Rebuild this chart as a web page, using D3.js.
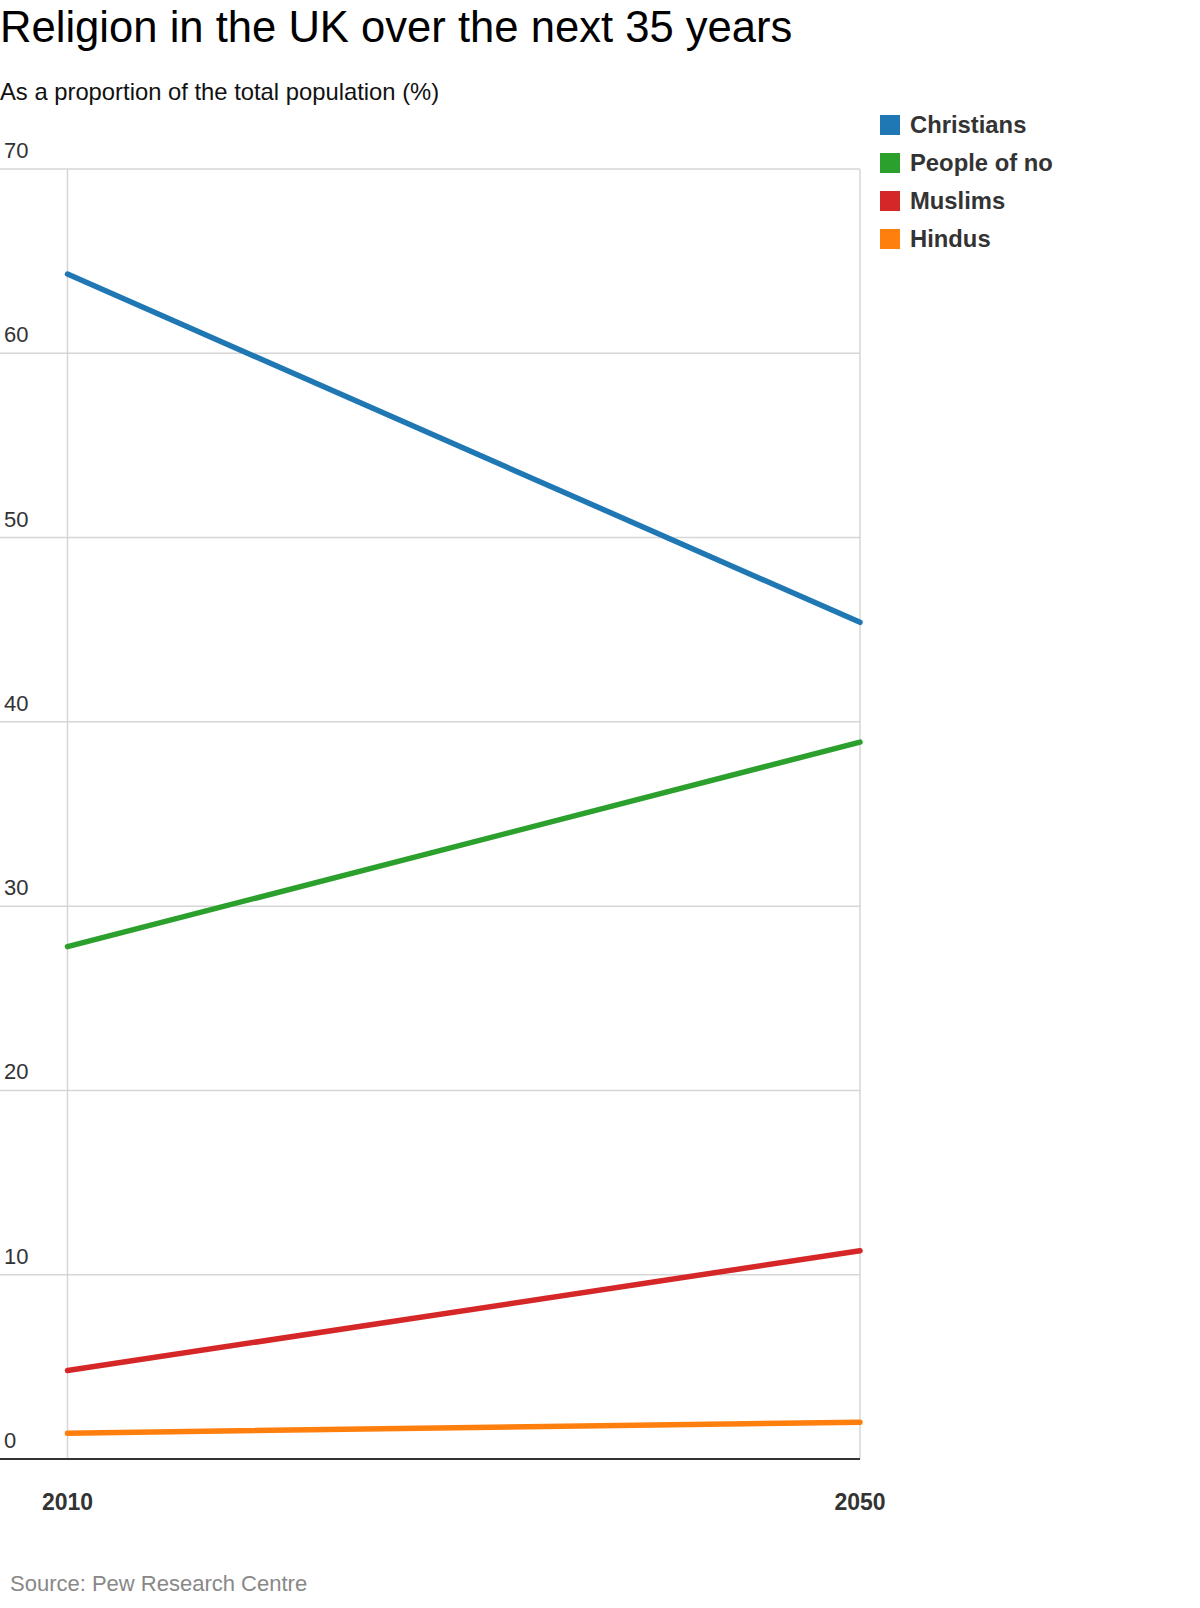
<!DOCTYPE html>
<html><head><meta charset="utf-8">
<script src="https://cdn.jsdelivr.net/npm/d3@7"></script>
<style>body{margin:0;background:#fff;} text{font-family:"Liberation Sans",Arial,sans-serif;}</style>
</head><body><div id="chart"></div>
<script>
const years = [2010, 2050];
const seriesNames = ["Christians", "People of no", "Muslims", "Hindus"];
const christians = [64.3, 45.4];
const noReligion = [27.8, 38.9];
const muslims = [4.8, 11.3];
const hindus = [1.4, 2.0];
const colors = ["#1f77b4", "#2ca02c", "#d62728", "#ff7f0e"];
const yTicks = [0, 10, 20, 30, 40, 50, 60, 70];

const allValues = [christians, noReligion, muslims, hindus];
const W = 1200, H = 1608;
const svg = d3.select("#chart").append("svg").attr("width", W).attr("height", H);

const x = d3.scalePoint().domain(years).range([67.5, 860]);
const y = d3.scaleLinear().domain([0, 70]).range([1459, 169]);

svg.append("text").attr("x", 0).attr("y", 42).attr("font-size", 43.6).attr("fill", "#000")
  .text("Religion in the UK over the next 35 years");
svg.append("text").attr("x", 0).attr("y", 100).attr("font-size", 23.8).attr("fill", "#111")
  .text("As a proportion of the total population (%)");

// gridlines
const grid = svg.append("g");
grid.selectAll("line.h").data(yTicks.filter(d => d > 0)).enter().append("line")
  .attr("x1", 0).attr("x2", x(2050)).attr("y1", d => y(d)).attr("y2", d => y(d))
  .attr("stroke", "#d6d6d6").attr("stroke-width", 1.5);
grid.selectAll("line.v").data(years).enter().append("line")
  .attr("x1", d => x(d)).attr("x2", d => x(d)).attr("y1", y(70)).attr("y2", y(0))
  .attr("stroke", "#d6d6d6").attr("stroke-width", 1.5);

// y labels
svg.append("g").selectAll("text").data(yTicks).enter().append("text")
  .attr("x", 4).attr("y", d => y(d) - 11).attr("font-size", 22).attr("fill", "#333")
  .text(d => d);

// baseline
svg.append("line").attr("x1", 0).attr("x2", x(2050)).attr("y1", y(0)).attr("y2", y(0))
  .attr("stroke", "#333").attr("stroke-width", 2);

// x labels
svg.append("g").selectAll("text").data(years).enter().append("text")
  .attr("x", d => x(d)).attr("y", 1510).attr("text-anchor", "middle")
  .attr("font-size", 23).attr("font-weight", "bold").attr("fill", "#333").text(d => d);

// lines
const line = d3.line().x((d, i) => x(years[i])).y(d => y(d));
svg.append("g").selectAll("path").data(allValues).enter().append("path")
  .attr("d", d => line(d)).attr("fill", "none")
  .attr("stroke", (d, i) => colors[i]).attr("stroke-width", 5.5)
  .attr("stroke-linecap", "round").attr("stroke-linejoin", "round");

// legend
const lg = svg.append("g").attr("transform", "translate(880,115)");
const items = lg.selectAll("g").data(seriesNames).enter().append("g")
  .attr("transform", (d, i) => `translate(0,${i * 38})`);
items.append("rect").attr("width", 20).attr("height", 20).attr("fill", (d, i) => colors[i]);
items.append("text").attr("x", 30).attr("y", 18).attr("font-size", 23.8)
  .attr("font-weight", "bold").attr("fill", "#333").text(d => d);

svg.append("text").attr("x", 10).attr("y", 1591).attr("font-size", 22).attr("fill", "#888")
  .text("Source: Pew Research Centre");
</script></body></html>
